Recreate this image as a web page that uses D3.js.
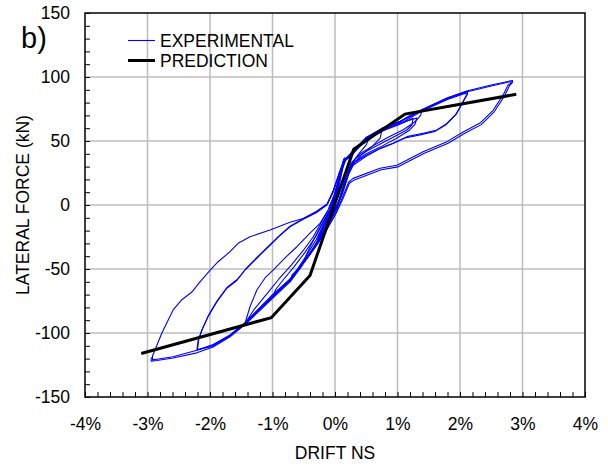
<!DOCTYPE html>
<html>
<head>
<meta charset="utf-8">
<script src="https://cdn.jsdelivr.net/npm/d3@7"></script>
<style>
  html, body { margin: 0; padding: 0; background: #fff; }
  svg text { font-family: "Liberation Sans", Arial, sans-serif; }
</style>
</head>
<body>
<svg id="chart" width="608" height="468"></svg>
<script>
// Axis ticks (drift in %, lateral force in kN)
const xTicks = [-4, -3, -2, -1, 0, 1, 2, 3, 4];
const yTicks = [-150, -100, -50, 0, 50, 100, 150];

// Predicted backbone curve: [drift %, force kN]
const prediction = [
  [-3.1, -116], [-1.02, -88], [-0.4, -55], [0.3, 43.5], [1.12, 71], [2.9, 86.5]
];

// Measured hysteresis, one array per loading cycle: [drift %, force kN]
const cycle015a = [[-0.02,0],[0.04,12],[0.09,26],[0.14,36],[0.12,31],[0.06,17],[0.0,3],[-0.08,-7],[-0.17,-17],[-0.27,-27],[-0.23,-21],[-0.13,-10],[-0.04,-1]];
const cycle015b = [[-0.04,-1],[0.03,11],[0.1,28],[0.16,37],[0.13,30],[0.07,16],[0.01,2],[-0.1,-10],[-0.2,-20],[-0.3,-30],[-0.25,-23],[-0.14,-11],[-0.05,-2]];
const cycle05 = [[-0.05,-2],[0.03,13],[0.1,28],[0.17,36],[0.3,43],[0.45,50],[0.55,53],[0.5,47],[0.38,40],[0.25,31],[0.15,18],[0.05,2],[-0.08,-12],[-0.2,-24],[-0.35,-35],[-0.5,-45],[-0.46,-39],[-0.34,-27],[-0.2,-14],[-0.08,-4]];
const cycle075 = [[-0.08,-4],[0.02,10],[0.1,27],[0.17,36],[0.3,42],[0.5,51],[0.75,58],[0.72,52],[0.6,46],[0.42,39],[0.27,31],[0.18,20],[0.08,5],[-0.05,-9],[-0.2,-22],[-0.38,-36],[-0.55,-49],[-0.72,-60],[-0.69,-55],[-0.6,-50],[-0.45,-39],[-0.3,-27],[-0.16,-13],[-0.07,-3]];
const cycle13 = [[-0.07,-3],[0.02,9],[0.1,26],[0.17,35],[0.3,42],[0.5,51],[0.77,58],[1.04,63],[1.25,67.7],[1.23,62.5],[1.15,58.6],[0.93,53],[0.7,47],[0.5,42],[0.32,36],[0.22,26],[0.12,11],[0.02,-3],[-0.12,-16],[-0.28,-30],[-0.45,-42],[-0.7,-57],[-0.99,-71.6],[-0.95,-66],[-0.82,-58],[-0.65,-48],[-0.48,-37],[-0.3,-24],[-0.16,-11],[-0.08,-3]];
const cycle14a = [[-0.08,-3],[0.0,8],[0.08,24],[0.15,35],[0.24,38.5],[0.5,53],[0.77,60],[1.04,65],[1.2,70],[1.39,74],[1.37,70],[1.28,65],[1.1,59],[0.85,53],[0.6,46],[0.4,40],[0.26,33],[0.17,19],[0.07,4],[-0.08,-11],[-0.25,-26],[-0.4,-38],[-0.72,-59],[-1.0,-72],[-1.2,-82],[-1.44,-92.4],[-1.36,-79.5],[-1.25,-66.4],[-1.12,-57],[-0.99,-50.8],[-0.77,-40],[-0.61,-32.6],[-0.4,-22],[-0.24,-14.3],[-0.12,-5]];
const cycle14b = [[-0.12,-5],[-0.02,7],[0.07,22],[0.14,34],[0.22,37],[0.5,52],[0.77,59],[1.04,64],[1.31,68],[1.28,63],[1.18,58],[0.98,52],[0.75,46],[0.5,40],[0.32,34],[0.22,24],[0.12,9],[0.0,-5],[-0.15,-19],[-0.3,-31],[-0.45,-41],[-0.72,-58],[-1.0,-70],[-1.2,-80],[-1.42,-91],[-1.3,-82],[-1.1,-70],[-0.9,-58],[-0.7,-47],[-0.5,-35],[-0.35,-25],[-0.2,-12],[-0.1,-3]];
const cycle21a = [[-0.1,-3],[0.0,9],[0.08,24],[0.15,35],[0.24,38],[0.5,52],[0.77,60],[1.04,65],[1.39,74.5],[1.8,83.5],[2.12,88.8],[2.12,86.5],[2.05,80.7],[1.95,71.6],[1.79,63.8],[1.63,58.6],[1.41,56],[1.15,53.4],[0.93,48.2],[0.72,44.3],[0.51,39],[0.29,32.6],[0.22,28],[0.14,14],[0.04,-1],[-0.1,-14],[-0.28,-29],[-0.42,-39],[-0.72,-58],[-1.0,-71],[-1.44,-92],[-1.68,-101.6],[-1.95,-109],[-2.21,-113.5],[-2.19,-106],[-2.13,-97.7],[-2.03,-87],[-1.89,-75.5],[-1.73,-65],[-1.57,-59],[-1.44,-50.8],[-1.28,-43],[-1.09,-33.8],[-0.91,-25],[-0.72,-17],[-0.5,-11],[-0.3,-6],[-0.13,0]];
const cycle21b = [[-0.13,0],[-0.03,10],[0.06,23],[0.14,34],[0.25,38],[0.5,51],[0.8,59],[1.1,65],[1.39,73.5],[1.8,82.5],[2.1,87.5],[2.1,85.5],[2.03,79],[1.93,70.5],[1.77,62.5],[1.6,57.5],[1.38,55],[1.12,52.4],[0.9,47.4],[0.7,43.5],[0.5,38],[0.3,31.5],[0.22,27],[0.13,12],[0.03,-3],[-0.12,-16],[-0.3,-31],[-0.45,-41],[-0.72,-59],[-1.0,-72],[-1.44,-93],[-1.7,-103],[-1.97,-110.5],[-2.2,-113],[-2.18,-105],[-2.12,-96.7],[-2.02,-86],[-1.88,-74.5],[-1.72,-64],[-1.56,-58],[-1.43,-50],[-1.27,-42],[-1.08,-33],[-0.9,-24.5],[-0.72,-16.5],[-0.5,-10.5],[-0.3,-5.5],[-0.13,0.5]];
const cycle29a = [[-0.13,0.5],[-0.03,11],[0.06,24],[0.14,35],[0.25,39],[0.5,52],[0.77,60],[1.04,65],[1.39,74],[1.8,83],[2.12,88.5],[2.5,93],[2.82,96.5],[2.82,95.5],[2.77,93.7],[2.69,86],[2.53,74],[2.32,64],[2.05,57],[1.79,49.5],[1.41,41.6],[0.99,31],[0.72,28.7],[0.29,20.8],[0.22,18],[0.12,6],[0.02,-6],[-0.12,-18],[-0.3,-31],[-0.45,-41],[-0.72,-59],[-1.0,-72],[-1.44,-92.5],[-1.7,-102.5],[-1.97,-110],[-2.21,-113.5],[-2.59,-118.5],[-2.85,-120.5],[-2.92,-121],[-2.92,-118],[-2.77,-100],[-2.59,-82],[-2.45,-74],[-2.29,-68],[-2.16,-60],[-2.0,-51],[-1.87,-44.3],[-1.68,-36.5],[-1.55,-29.9],[-1.36,-24.8],[-1.04,-19.5],[-0.72,-13.5],[-0.51,-10.5],[-0.3,-5],[-0.12,1]];
const cycle29b = [[-0.12,1],[-0.02,12],[0.07,25],[0.15,35],[0.26,40],[0.5,52.5],[0.77,60.5],[1.04,65.5],[1.39,74.5],[1.8,83.8],[2.12,89.3],[2.5,93.8],[2.84,97.3],[2.84,95.8],[2.79,93],[2.71,85],[2.55,73],[2.34,62.8],[2.07,55.8],[1.81,48.3],[1.43,40.4],[1.01,29.8],[0.74,27.5],[0.31,19.6],[0.23,17],[0.12,4],[0.0,-8],[-0.14,-20],[-0.3,-32],[-0.45,-42],[-0.72,-60],[-1.0,-73],[-1.44,-93.5],[-1.68,-103],[-1.95,-111],[-2.21,-115.5],[-2.59,-119.5],[-2.85,-121.5],[-2.94,-122],[-2.94,-119]];

const cycles = [cycle015a, cycle015b, cycle05, cycle075, cycle13, cycle14a, cycle14b, cycle21a, cycle21b, cycle29a, cycle29b];

const FONT = 17.5;
const svg = d3.select("#chart");
const plot = { left: 85, right: 585, top: 13, bottom: 397 };

const x = d3.scaleLinear().domain([-4, 4]).range([plot.left, plot.right]);
const y = d3.scaleLinear().domain([-150, 150]).range([plot.bottom, plot.top]);

// Grid lines
const grid = svg.append("g").attr("stroke", "#bdbdbd").attr("stroke-width", 1.5);
grid.selectAll("line.v").data(xTicks.slice(1, -1)).join("line")
  .attr("x1", d => x(d)).attr("x2", d => x(d))
  .attr("y1", plot.top).attr("y2", plot.bottom);
grid.selectAll("line.h").data(yTicks.slice(1, -1)).join("line")
  .attr("x1", plot.left).attr("x2", plot.right)
  .attr("y1", d => y(d)).attr("y2", d => y(d));

// Inward tick marks every 0.2 % and 10 kN
const xMinor = d3.range(-40, 41, 2).map(v => v / 10);
const yMinor = d3.range(-150, 151, 10);
svg.append("g")
  .attr("transform", `translate(0,${plot.bottom})`)
  .call(d3.axisBottom(x).tickValues(xMinor).tickSize(-5).tickFormat(""))
  .call(g => g.select(".domain").remove())
  .call(g => g.selectAll("line").attr("stroke", "#000"));
svg.append("g")
  .attr("transform", `translate(${plot.left},0)`)
  .call(d3.axisLeft(y).tickValues(yMinor).tickSize(-5).tickFormat(""))
  .call(g => g.select(".domain").remove())
  .call(g => g.selectAll("line").attr("stroke", "#000"));

// Tick labels (plain hyphen for negatives)
svg.append("g")
  .attr("transform", `translate(0,${plot.bottom})`)
  .call(d3.axisBottom(x).tickValues(xTicks).tickSize(0).tickPadding(21).tickFormat(d => String(d) + "%"))
  .call(g => g.select(".domain").remove())
  .call(g => g.selectAll("text").attr("font-size", FONT).attr("fill", "#000")
    .attr("font-family", "Liberation Sans, Arial, sans-serif"));
svg.append("g")
  .attr("transform", `translate(${plot.left},0)`)
  .call(d3.axisLeft(y).tickValues(yTicks).tickSize(0).tickPadding(15).tickFormat(d => String(d)))
  .call(g => g.select(".domain").remove())
  .call(g => g.selectAll("text").attr("font-size", FONT).attr("fill", "#000")
    .attr("font-family", "Liberation Sans, Arial, sans-serif"));

// Data
const line = d3.line().x(d => x(d[0])).y(d => y(d[1]));
svg.append("clipPath").attr("id", "plotClip").append("rect")
  .attr("x", plot.left).attr("y", plot.top)
  .attr("width", plot.right - plot.left).attr("height", plot.bottom - plot.top);

const data = svg.append("g").attr("clip-path", "url(#plotClip)");
data.selectAll("path.exp").data(cycles).join("path")
  .attr("class", "exp")
  .attr("d", line)
  .attr("fill", "none")
  .attr("stroke", "#0000ff")
  .attr("stroke-width", 1.1)
  .attr("stroke-linejoin", "round");
data.append("path")
  .datum(prediction)
  .attr("d", line)
  .attr("fill", "none")
  .attr("stroke", "#000")
  .attr("stroke-width", 3)
  .attr("stroke-linejoin", "miter");

// Frame
svg.append("rect")
  .attr("x", plot.left).attr("y", plot.top)
  .attr("width", plot.right - plot.left).attr("height", plot.bottom - plot.top)
  .attr("fill", "none").attr("stroke", "#000").attr("stroke-width", 1.5);

// Legend
const legend = svg.append("g");
const items = [
  { label: "EXPERIMENTAL", color: "#0000ff", width: 1.1, cy: 40.5 },
  { label: "PREDICTION", color: "#000", width: 3, cy: 60.5 }
];
items.forEach(it => {
  legend.append("line")
    .attr("x1", 128).attr("x2", 155).attr("y1", it.cy).attr("y2", it.cy)
    .attr("stroke", it.color).attr("stroke-width", it.width);
  legend.append("text")
    .attr("x", 160).attr("y", it.cy + 6)
    .attr("font-size", FONT).text(it.label);
});

// Panel tag
svg.append("text")
  .attr("x", 21).attr("y", 48)
  .attr("font-family", "Liberation Serif, Times New Roman, serif")
  .attr("font-size", 29)
  .text("b)");

// Axis titles
svg.append("text")
  .attr("x", x(0)).attr("y", 459)
  .attr("text-anchor", "middle")
  .attr("font-size", FONT)
  .text("DRIFT NS");
svg.append("text")
  .attr("transform", `translate(29,${y(0)}) rotate(-90)`)
  .attr("text-anchor", "middle")
  .attr("font-size", FONT)
  .text("LATERAL FORCE (kN)");
</script>
</body>
</html>
